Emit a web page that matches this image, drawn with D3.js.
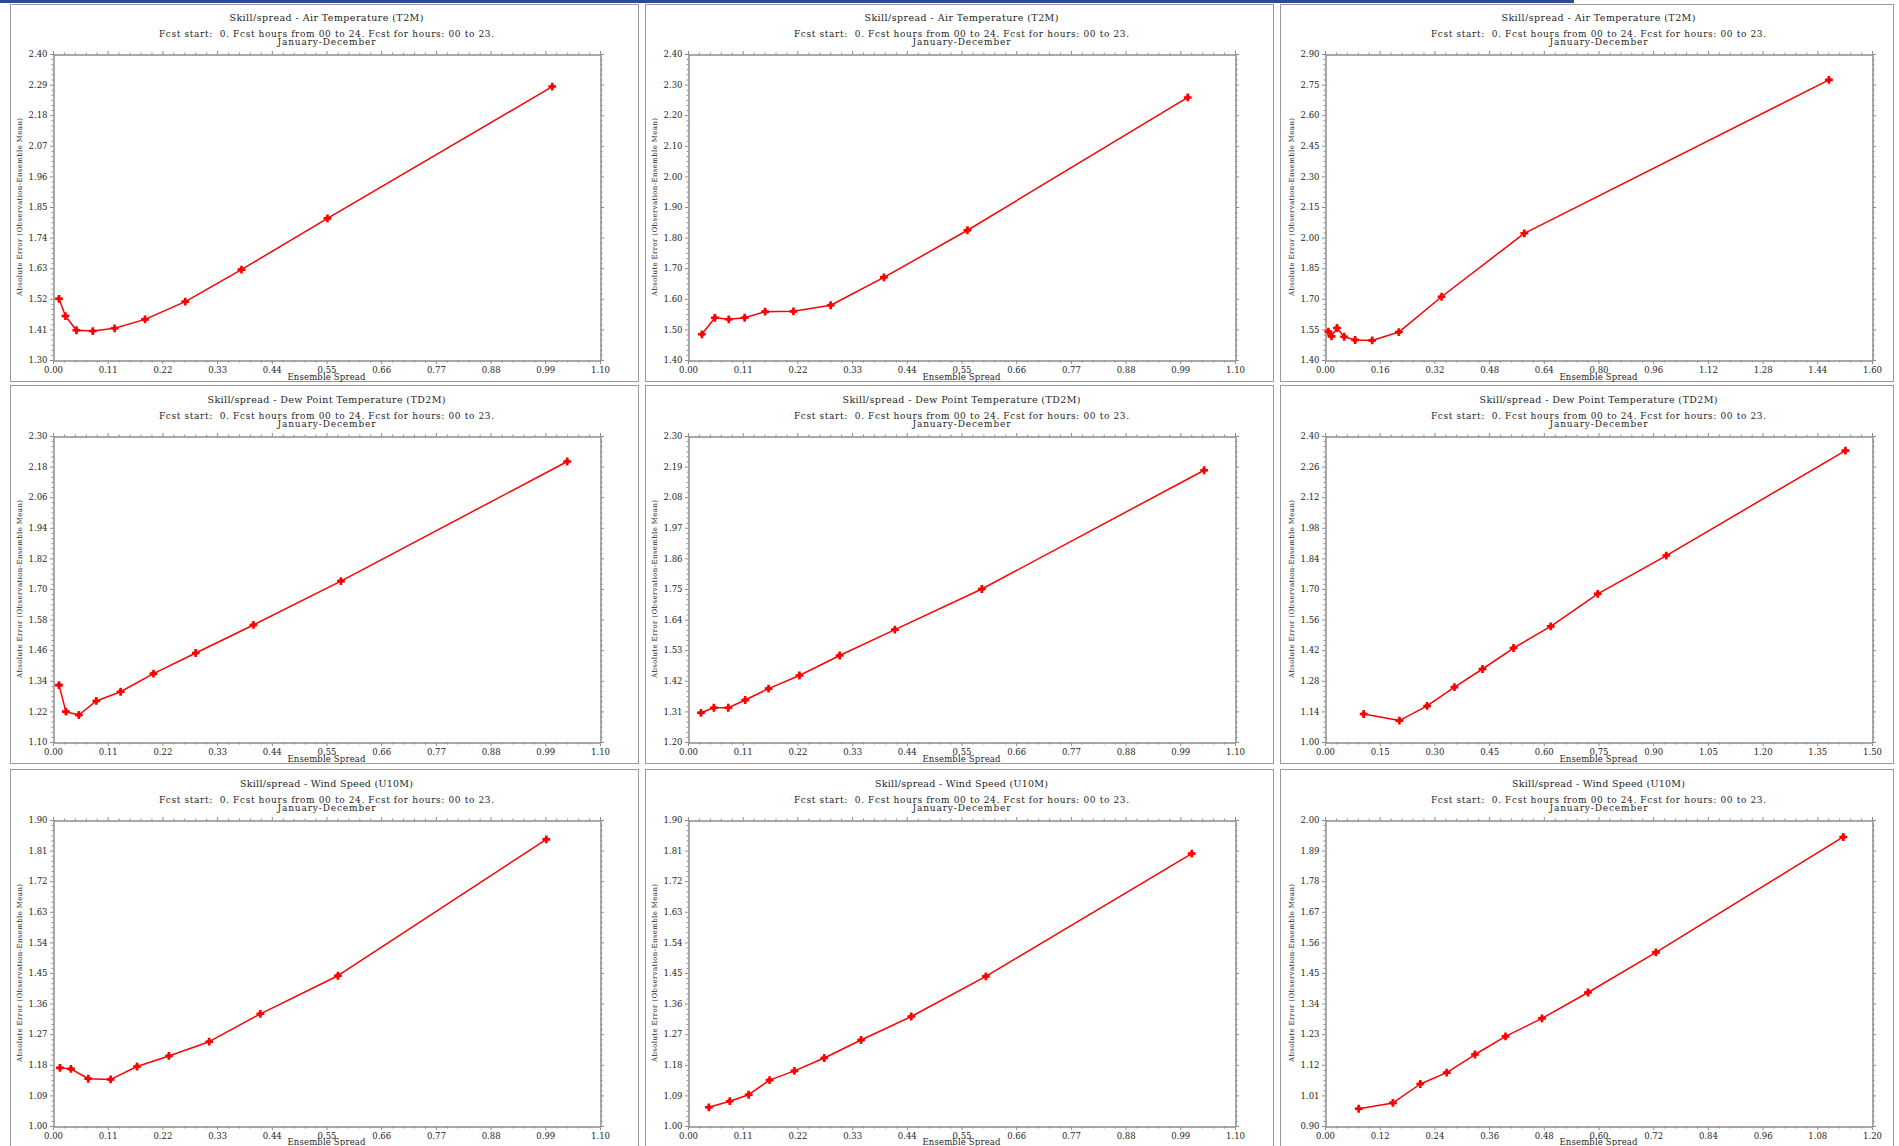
<!DOCTYPE html>
<html>
<head>
<meta charset="utf-8">
<script src="https://cdn.jsdelivr.net/npm/d3@7"></script>
<style>
  html, body { margin: 0; padding: 0; background: #ffffff; }
  svg { display: block; }
</style>
</head>
<body>
<svg id="chart" width="1899" height="1146"></svg>
<script>
// ---------------- DATA ----------------
const rowTitles = [
  "Skill/spread - Air Temperature (T2M)",
  "Skill/spread - Dew Point Temperature (TD2M)",
  "Skill/spread - Wind Speed (U10M)"
];
const subtitleText = "Fcst start:  0. Fcst hours from 00 to 24. Fcst for hours: 00 to 23.";
const periodText = "January-December";
const xAxisTitle = "Ensemble Spread";
const yAxisTitle = "Absolute Error (Observation-Ensemble Mean)";

// Row 1: Air Temperature (T2M)
const spreadT2mA = [0.012, 0.025, 0.047, 0.080, 0.124, 0.185, 0.266, 0.379, 0.552, 1.004];
const errorT2mA  = [1.520, 1.458, 1.407, 1.404, 1.414, 1.446, 1.510, 1.625, 1.809, 2.283];
const spreadT2mB = [0.028, 0.054, 0.082, 0.114, 0.155, 0.212, 0.287, 0.394, 0.562, 1.005];
const errorT2mB  = [1.484, 1.538, 1.533, 1.538, 1.558, 1.559, 1.579, 1.670, 1.824, 2.258];
const spreadT2mC = [0.010, 0.019, 0.035, 0.056, 0.088, 0.138, 0.216, 0.341, 0.583, 1.474];
const errorT2mC  = [1.539, 1.516, 1.557, 1.514, 1.498, 1.496, 1.537, 1.710, 2.021, 2.773];

// Row 2: Dew Point Temperature (TD2M)
const spreadTd2mA = [0.012, 0.026, 0.052, 0.087, 0.136, 0.202, 0.287, 0.403, 0.579, 1.034];
const errorTd2mA  = [1.323, 1.219, 1.206, 1.261, 1.297, 1.368, 1.449, 1.559, 1.731, 2.200];
const spreadTd2mB = [0.026, 0.052, 0.081, 0.115, 0.162, 0.224, 0.305, 0.416, 0.591, 1.038];
const errorTd2mB  = [1.305, 1.323, 1.323, 1.351, 1.392, 1.439, 1.511, 1.604, 1.750, 2.177];
const spreadTd2mC = [0.106, 0.204, 0.280, 0.355, 0.432, 0.517, 0.619, 0.748, 0.936, 1.427];
const errorTd2mC  = [1.128, 1.098, 1.165, 1.251, 1.334, 1.430, 1.529, 1.678, 1.853, 2.333];

// Row 3: Wind Speed (U10M)
const spreadU10mA = [0.014, 0.036, 0.071, 0.116, 0.169, 0.233, 0.314, 0.417, 0.573, 0.992];
const errorU10mA  = [1.171, 1.168, 1.139, 1.137, 1.175, 1.206, 1.248, 1.330, 1.442, 1.843];
const spreadU10mB = [0.042, 0.084, 0.122, 0.164, 0.214, 0.274, 0.348, 0.449, 0.599, 1.013];
const errorU10mB  = [1.055, 1.073, 1.092, 1.135, 1.162, 1.200, 1.253, 1.322, 1.440, 1.801];
const spreadU10mC = [0.074, 0.149, 0.209, 0.267, 0.329, 0.396, 0.476, 0.577, 0.726, 1.137];
const errorU10mC  = [0.962, 0.983, 1.051, 1.092, 1.157, 1.222, 1.287, 1.380, 1.524, 1.939];

// Tick labels
const xTicks110 = ["0.00","0.11","0.22","0.33","0.44","0.55","0.66","0.77","0.88","0.99","1.10"];
const xTicks160 = ["0.00","0.16","0.32","0.48","0.64","0.80","0.96","1.12","1.28","1.44","1.60"];
const xTicks150 = ["0.00","0.15","0.30","0.45","0.60","0.75","0.90","1.05","1.20","1.35","1.50"];
const xTicks120 = ["0.00","0.12","0.24","0.36","0.48","0.60","0.72","0.84","0.96","1.08","1.20"];

const yTicksT2mA  = ["1.30","1.41","1.52","1.63","1.74","1.85","1.96","2.07","2.18","2.29","2.40"];
const yTicksT2mB  = ["1.40","1.50","1.60","1.70","1.80","1.90","2.00","2.10","2.20","2.30","2.40"];
const yTicksT2mC  = ["1.40","1.55","1.70","1.85","2.00","2.15","2.30","2.45","2.60","2.75","2.90"];
const yTicksTd2mA = ["1.10","1.22","1.34","1.46","1.58","1.70","1.82","1.94","2.06","2.18","2.30"];
const yTicksTd2mB = ["1.20","1.31","1.42","1.53","1.64","1.75","1.86","1.97","2.08","2.19","2.30"];
const yTicksTd2mC = ["1.00","1.14","1.28","1.42","1.56","1.70","1.84","1.98","2.12","2.26","2.40"];
const yTicksU10mA = ["1.00","1.09","1.18","1.27","1.36","1.45","1.54","1.63","1.72","1.81","1.90"];
const yTicksU10mB = ["1.00","1.09","1.18","1.27","1.36","1.45","1.54","1.63","1.72","1.81","1.90"];
const yTicksU10mC = ["0.90","1.01","1.12","1.23","1.34","1.45","1.56","1.67","1.78","1.89","2.00"];

// ---------------- LAYOUT ----------------
const panels = [
  {row:0, col:0, xs:spreadT2mA,  ys:errorT2mA,  xt:xTicks110, yt:yTicksT2mA},
  {row:0, col:1, xs:spreadT2mB,  ys:errorT2mB,  xt:xTicks110, yt:yTicksT2mB},
  {row:0, col:2, xs:spreadT2mC,  ys:errorT2mC,  xt:xTicks160, yt:yTicksT2mC},
  {row:1, col:0, xs:spreadTd2mA, ys:errorTd2mA, xt:xTicks110, yt:yTicksTd2mA},
  {row:1, col:1, xs:spreadTd2mB, ys:errorTd2mB, xt:xTicks110, yt:yTicksTd2mB},
  {row:1, col:2, xs:spreadTd2mC, ys:errorTd2mC, xt:xTicks150, yt:yTicksTd2mC},
  {row:2, col:0, xs:spreadU10mA, ys:errorU10mA, xt:xTicks110, yt:yTicksU10mA},
  {row:2, col:1, xs:spreadU10mB, ys:errorU10mB, xt:xTicks110, yt:yTicksU10mB},
  {row:2, col:2, xs:spreadU10mC, ys:errorU10mC, xt:xTicks120, yt:yTicksU10mC}
];

const plotLeft = [53, 688, 1325];
const plotTop = [54, 436, 820];
const plotW = 547, plotH = 306;
const borderX = [[10, 638], [645, 1273], [1280, 1893]];
const borderY = [[4, 381], [385, 763], [769, 1170]];
// rendered text widths (px) measured on the reference
const titleWidth = [194, 238, 173];
const subtitleWidth = 335, periodWidth = 98, xTitleWidth = 78, yTitleWidth = 178;

const FONT = "'DejaVu Serif', 'Liberation Serif', serif";
const AXIS_COLOR = "#8c8c8c";
const TEXT_COLOR = "#1e1e1e";
const LINE_COLOR = "#ff0000";

const svg = d3.select("#chart");

// top blue bar
svg.append("rect").attr("x", 0).attr("y", 0).attr("width", 1574).attr("height", 3)
  .attr("fill", "#2d4b8e");

function minorValues(ticks, n) {
  const v = ticks.map(Number);
  const out = [];
  for (let i = 0; i < v.length - 1; i++) {
    for (let k = 1; k < n; k++) out.push(v[i] + (v[i + 1] - v[i]) * k / n);
  }
  return out;
}

function styleAxis(g) {
  g.selectAll(".domain").attr("stroke", AXIS_COLOR).attr("stroke-width", 1);
  g.selectAll(".tick line").attr("stroke", AXIS_COLOR).attr("stroke-width", 1);
  g.selectAll(".tick text").attr("fill", TEXT_COLOR)
    .attr("font-family", FONT).attr("font-size", "8.5px");
  g.attr("font-family", null).attr("font-size", null);
}

// centred text, letter-spaced so that it spans the measured width
function spreadText(sel, txt, width) {
  sel.text(txt);
  let natural = 0;
  try { natural = sel.node().getComputedTextLength(); } catch (e) { natural = 0; }
  const n = txt.length;
  if (natural > 0 && natural < width && n > 1) {
    const ls = (width - natural) / (n - 1);
    sel.style("letter-spacing", ls + "px");
    // letter-spacing adds a trailing gap after the last glyph; compensate
    sel.attr("dx", ls / 2);
  }
  return sel;
}

function label(g, cx, y, txt, size, width) {
  const t = g.append("text").attr("x", cx).attr("y", y).attr("dy", "0.35em")
    .attr("text-anchor", "middle").attr("font-family", FONT).attr("font-size", size)
    .attr("fill", TEXT_COLOR).style("white-space", "pre");
  return spreadText(t, txt, width);
}

panels.forEach(p => {
  const x0 = plotLeft[p.col], y0 = plotTop[p.row];
  const x1 = x0 + plotW, y1 = y0 + plotH;
  const g = svg.append("g");

  // panel frame
  const bx = borderX[p.col], by = borderY[p.row];
  g.append("rect")
    .attr("x", bx[0] + 0.5).attr("y", by[0] + 0.5)
    .attr("width", bx[1] - bx[0]).attr("height", by[1] - by[0])
    .attr("fill", "none").attr("stroke", "#9a9a9a").attr("stroke-width", 1);

  const x = d3.scaleLinear()
    .domain([+p.xt[0], +p.xt[p.xt.length - 1]])
    .range([x0, x1]);
  const y = d3.scaleLinear()
    .domain([+p.yt[0], +p.yt[p.yt.length - 1]])
    .range([y1, y0]);

  const xMajor = p.xt.map(Number), yMajor = p.yt.map(Number);
  const xMinor = minorValues(p.xt, 5), yMinor = minorValues(p.yt, 6);

  // bottom axis
  const gb = g.append("g").attr("transform", `translate(0,${y1 + 0.5})`)
    .call(d3.axisBottom(x).tickValues(xMajor).tickFormat((d, i) => p.xt[i])
      .tickSize(3.5).tickSizeOuter(0).tickPadding(2.5));
  styleAxis(gb);
  const gbm = g.append("g").attr("transform", `translate(0,${y1 + 0.5})`)
    .call(d3.axisBottom(x).tickValues(xMinor).tickFormat("").tickSize(2).tickSizeOuter(0));
  styleAxis(gbm);
  // top axis
  const gt = g.append("g").attr("transform", `translate(0,${y0 + 0.5})`)
    .call(d3.axisTop(x).tickValues(xMajor).tickFormat("").tickSize(3.5).tickSizeOuter(0));
  styleAxis(gt);
  const gtm = g.append("g").attr("transform", `translate(0,${y0 + 0.5})`)
    .call(d3.axisTop(x).tickValues(xMinor).tickFormat("").tickSize(2).tickSizeOuter(0));
  styleAxis(gtm);
  // left axis
  const gl = g.append("g").attr("transform", `translate(${x0 + 0.5},0)`)
    .call(d3.axisLeft(y).tickValues(yMajor).tickFormat((d, i) => p.yt[i])
      .tickSize(3.5).tickSizeOuter(0).tickPadding(2.5));
  styleAxis(gl);
  const glm = g.append("g").attr("transform", `translate(${x0 + 0.5},0)`)
    .call(d3.axisLeft(y).tickValues(yMinor).tickFormat("").tickSize(2).tickSizeOuter(0));
  styleAxis(glm);
  // right axis
  const gr = g.append("g").attr("transform", `translate(${x1 + 0.5},0)`)
    .call(d3.axisRight(y).tickValues(yMajor).tickFormat("").tickSize(3.5).tickSizeOuter(0));
  styleAxis(gr);
  const grm = g.append("g").attr("transform", `translate(${x1 + 0.5},0)`)
    .call(d3.axisRight(y).tickValues(yMinor).tickFormat("").tickSize(2).tickSizeOuter(0));
  styleAxis(grm);

  // titles
  const cx = (x0 + x1) / 2;
  label(g, cx, y0 - 36, rowTitles[p.row], "9.5px", titleWidth[p.row]);
  label(g, cx, y0 - 20.5, subtitleText, "9px", subtitleWidth);
  label(g, cx, y0 - 12.3, periodText, "9px", periodWidth);

  // axis titles
  label(g, cx, Math.min(y1 + 17.5, 1142), xAxisTitle, "8.5px", xTitleWidth);
  const yt = g.append("text")
    .attr("transform", `translate(${x0 - 33},${(y0 + y1) / 2}) rotate(-90)`)
    .attr("dy", "0.35em").attr("text-anchor", "middle")
    .attr("font-family", FONT).attr("font-size", "7px")
    .attr("fill", TEXT_COLOR);
  spreadText(yt, yAxisTitle, yTitleWidth);

  // data line + markers
  const pts = p.xs.map((v, i) => [v, p.ys[i]]);
  g.append("path").datum(pts)
    .attr("fill", "none").attr("stroke", LINE_COLOR).attr("stroke-width", 1.5)
    .attr("stroke-linejoin", "round")
    .attr("d", d3.line().x(d => x(d[0])).y(d => y(d[1])));
  g.selectAll("path.pt").data(pts).enter().append("path")
    .attr("class", "pt")
    .attr("transform", d => `translate(${x(d[0])},${y(d[1])})`)
    .attr("d", d3.symbol().type(d3.symbolCross).size(34))
    .attr("fill", LINE_COLOR);
  g.selectAll("circle.pt").data(pts).enter().append("circle")
    .attr("class", "pt")
    .attr("cx", d => x(d[0])).attr("cy", d => y(d[1])).attr("r", 2.4)
    .attr("fill", LINE_COLOR);
});
</script>
</body>
</html>
